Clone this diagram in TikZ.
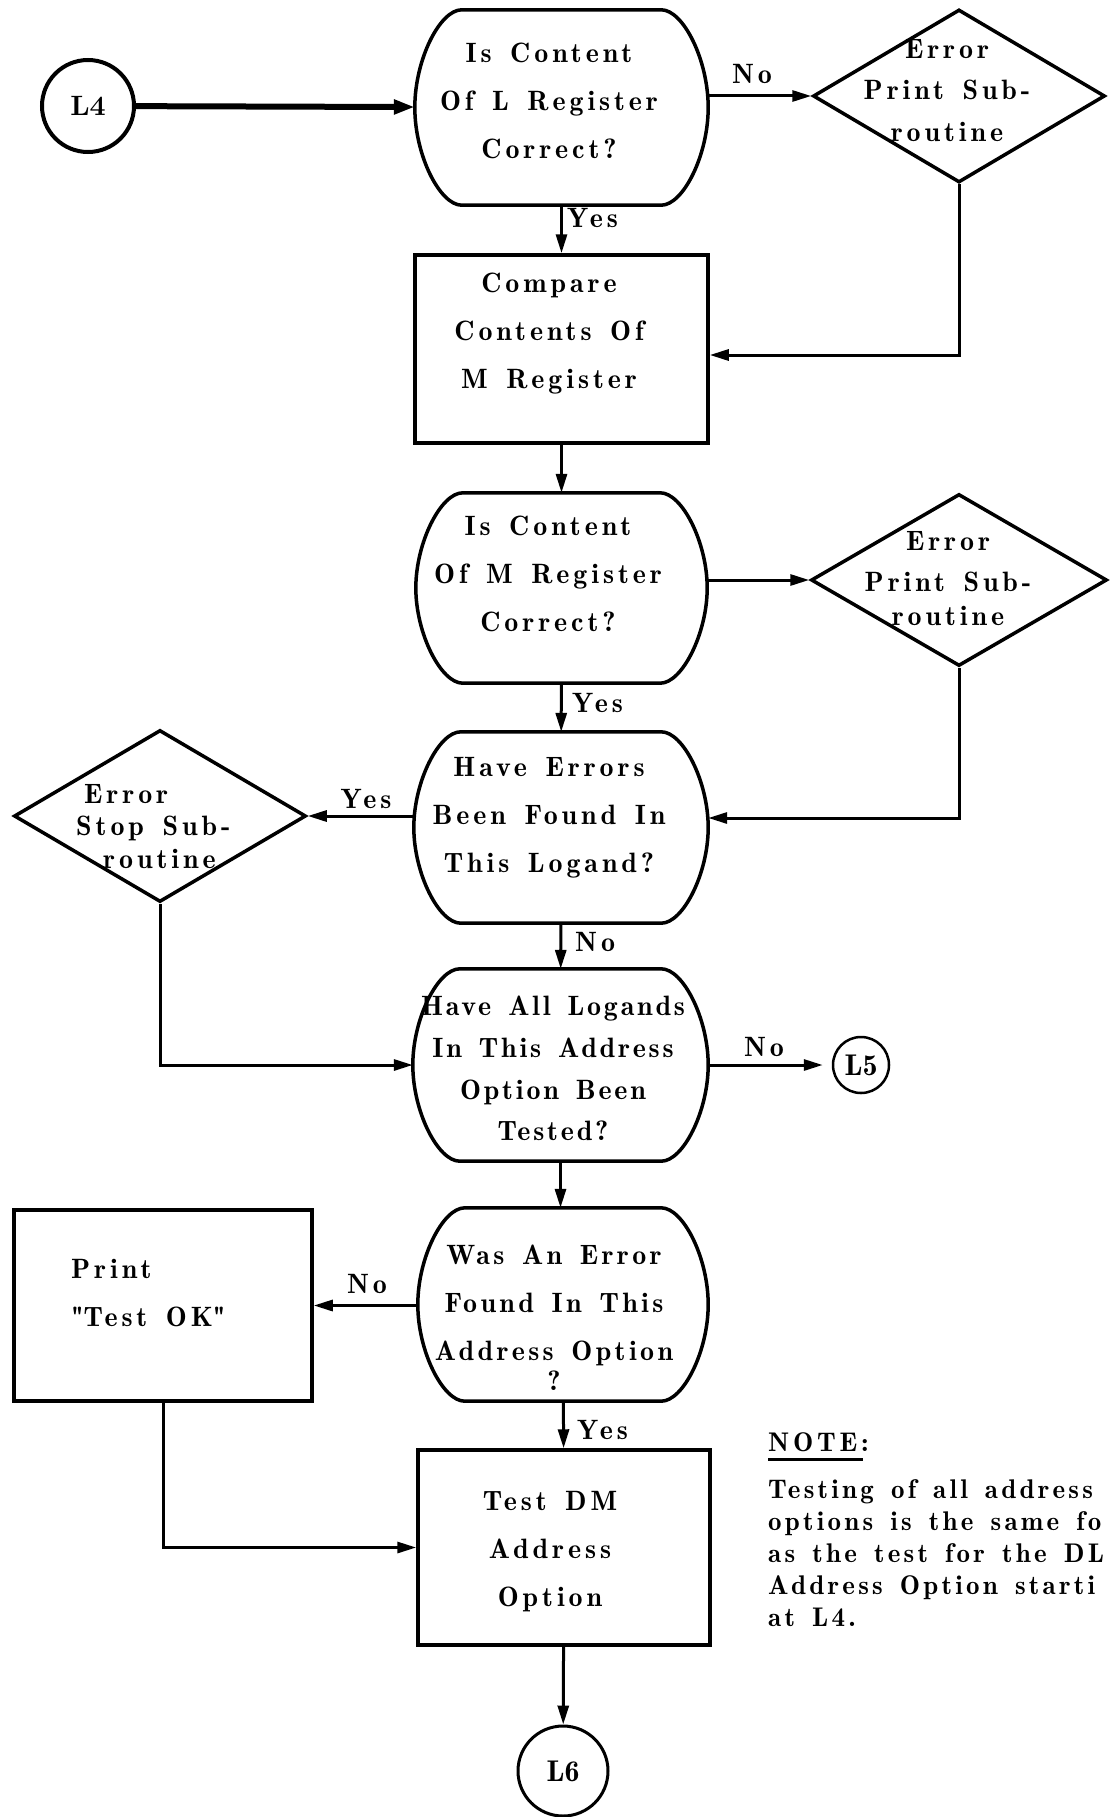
\documentclass[tikz,border=0pt]{standalone}
\usepackage{fontspec}
\setmainfont{lmromandemi10-regular.otf}[LetterSpace=14,WordSpace=1.4]
\newfontfamily\lbold{lmroman10-bold.otf}
\newfontfamily\lplain{lmromandemi10-regular.otf}
\usetikzlibrary{shapes.geometric,arrows.meta,calc}
\newcommand\bulgeout[1]{%
  \draw[shp] ($(#1.north west)+(47,0)$) -- ($(#1.north east)+(-47,0)$)
    .. controls ($(#1.north east)+(-25,0)$) and ($(#1.north east)+(0,50)$) .. (#1.east)
    .. controls ($(#1.south east)+(0,-50)$) and ($(#1.south east)+(-25,0)$) .. ($(#1.south east)+(-47,0)$)
    -- ($(#1.south west)+(47,0)$)
    .. controls ($(#1.south west)+(25,0)$) and ($(#1.south west)+(0,-50)$) .. (#1.west)
    .. controls ($(#1.north west)+(0,50)$) and ($(#1.north west)+(25,0)$) .. cycle;}
\tikzset{
  every node/.style={font=\fontsize{28}{48}\selectfont},
  shp/.style={line width=3.5pt},
  dec/.style={rectangle,draw=none,inner sep=0pt},
  box/.style={rectangle,draw,line width=3.5pt,inner sep=0pt},
  dia/.style={diamond,draw,line width=3.5pt,inner sep=0pt},
  term/.style={circle,draw,inner sep=0pt},
  txt/.style={inner sep=0pt,align=center,anchor=north},
  lab/.style={inner sep=0pt},
  conn/.style={line width=3pt,-{Triangle[length=19pt,width=11pt]}},
  thickconn/.style={line width=6pt,-{Triangle[length=21pt,width=14pt]}},
}
\begin{document}
\begin{tikzpicture}[x=1pt,y=-1pt]
\useasboundingbox (0,0) rectangle (1110,1817);
\clip (0,0) rectangle (1110,1817);
\fill[white] (0,0) rectangle (1110,1817);

% terminals
\node[term,line width=4pt,minimum size=92pt,font=\fontsize{28}{30}\selectfont\lbold] (L4) at (88,106) {L4};
\node[term,line width=2.5pt,minimum size=56pt,font=\fontsize{30}{34}\selectfont\lplain] (L5) at (861,1065) {L5};
\node[term,line width=3pt,minimum size=90pt,font=\fontsize{30}{34}\selectfont\lplain] (L6) at (563,1771) {L6};

% decisions
\node[dec,minimum width=293pt,minimum height=195pt] (q1) at (561.5,107.5) {};
\node[dec,minimum width=291pt,minimum height=190pt] (q2) at (561.5,588) {};
\node[dec,minimum width=294pt,minimum height=191pt] (q3) at (561,827.5) {};
\node[dec,minimum width=295pt,minimum height=192pt] (q4) at (560.5,1065) {};
\node[dec,minimum width=290pt,minimum height=193pt] (q5) at (563,1304.5) {};
\bulgeout{q1}\bulgeout{q2}\bulgeout{q3}\bulgeout{q4}\bulgeout{q5}

% process boxes
\node[box,minimum width=293pt,minimum height=188pt] (cmp) at (561.5,349) {};
\node[box,minimum width=292pt,minimum height=195pt] (tdm) at (564,1547.5) {};
\node[box,minimum width=298pt,minimum height=191pt] (prt) at (163,1305.5) {};

% error diamonds
\node[dia,minimum width=292pt,minimum height=173pt] (d1) at (959,96) {};
\node[dia,minimum width=296pt,minimum height=172pt] (d2) at (959,580) {};
\node[dia,minimum width=292pt,minimum height=172pt] (d3) at (160,816) {};

% texts
\node[txt] (q1t) at (549,43) {Is Content\\Of L Register\\Correct?};
\node[txt] (cmpt) at (549,273) {Compare\\Contents Of\\M Register};
\node[txt] (q2t) at (548,516) {Is Content\\Of M Register\\Correct?};
\node[txt] (q3t) at (549,757) {Have Errors\\Been Found In\\This Logand?};
\node[txt,font=\fontsize{28}{41.7}\selectfont\addfontfeatures{LetterSpace=10}] (q4t) at (553,996) {Have All Logands\\In This Address\\Option Been\\Tested?};
\node[txt,font=\fontsize{28}{48}\selectfont\addfontfeatures{LetterSpace=12}] (q5t) at (554,1245) {Was An Error\\Found In This\\Address Option\\[-18pt]?};
\node[txt] (tdmt) at (550,1491) {Test DM\\Address\\Option};
\node[txt,align=left,anchor=north west] (prtt) at (71,1259) {Print\\\textquotedbl Test OK\textquotedbl};
\node[txt,font=\fontsize{28}{41.5}\selectfont] (d1t) at (947,39) {Error\\Print Sub-\\routine};
\node[txt,font=\fontsize{28}{41}\selectfont] (d2t) at (948,531) {Error\\Print Sub-\\[-7pt]routine};
\node[txt,align=left,anchor=north west,font=\fontsize{28}{32.5}\selectfont] (d3t) at (76,784) {\hspace*{8pt}Error\\Stop Sub-\\\hspace*{27pt}routine};

% note
\node[lab,anchor=north west,font=\fontsize{27}{32}\selectfont] (nt) at (768,1432) {NOTE:};
\draw[line width=2.5pt] ([yshift=-8pt]nt.south west) -- ([yshift=-8pt,xshift=-6pt]nt.south east);
\node[txt,align=left,anchor=north west,font=\fontsize{27}{32}\selectfont\addfontfeatures{LetterSpace=12}] (ntb) at (768,1479)
  {Testing of all address\\options is the same fo\\as the test for the DL\\Address Option starti\\at L4.};

% connector labels
\node[lab] (lno1) at (752,74) {No};
\node[lab,anchor=west] (lyes1) at (567,218) {Yes};
\node[lab,anchor=west] (lyes2) at (572,703) {Yes};
\node[lab] (lyes3) at (366,799) {Yes};
\node[lab,anchor=west] (lno2) at (575,942) {No};
\node[lab] (lno3) at (764,1047) {No};
\node[lab] (lno4) at (367,1284) {No};
\node[lab,anchor=west] (lyes4) at (577,1430) {Yes};

% connectors
\draw[thickconn] (L4) -- (q1);
\draw[conn] (q1.east |- d1.west) -- (d1.west);
\draw[conn] (q1) -- (cmp);
\draw[conn] (d1.south) |- ([yshift=-6pt]cmp.east);
\draw[conn] (cmp) -- (q2);
\draw[conn] (q2.east |- d2.west) -- (d2.west);
\draw[conn] (q2) -- (q3);
\draw[conn] (d2.south) |- ([yshift=9.5pt]q3.east);
\draw[conn] (q3.west |- d3.east) -- (d3.east);
\draw[conn] (q3) -- (q4);
\draw[conn] (d3.south) |- (q4.west);
\draw[conn,shorten >=9pt] (q4.east |- L5.west) -- (L5.west);
\draw[conn] (q4) -- (q4 |- q5.north);
\draw[conn] (q5.west |- prt.east) -- (prt.east);
\draw[conn] (q5) -- (tdm);
\draw[conn] (prt.south) |- (tdm.west);
\draw[conn] (tdm) -- (L6);
\end{tikzpicture}
\end{document}
